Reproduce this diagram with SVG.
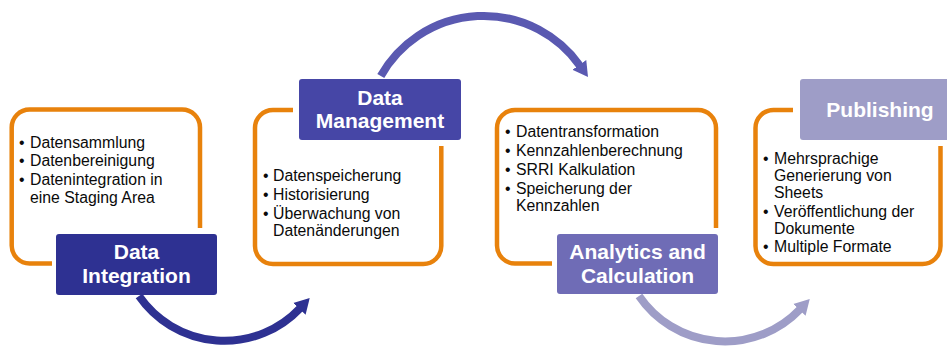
<svg xmlns="http://www.w3.org/2000/svg" width="947" height="347" viewBox="0 0 947 347">
<style>
.frame{fill:none;stroke:#E8820C;stroke-width:4.5;stroke-linecap:butt}
.hd{font-family:"Liberation Sans",Arial,sans-serif;font-weight:bold;font-size:21px;fill:#fff;text-anchor:middle}
.tx{font-family:"Liberation Sans",Arial,sans-serif;font-size:15.8px;fill:#0a0a0a}
.arr{fill:none;stroke-width:8}
</style>
<defs>
<marker id="m1" markerUnits="userSpaceOnUse" viewBox="-1 -10 16 20" markerWidth="16" markerHeight="20" refX="0" refY="0" orient="auto"><polygon points="-1,-8.5 14,0 -1,8.5" fill="#2E3192"/></marker>
<marker id="m2" markerUnits="userSpaceOnUse" viewBox="-1 -10 16 20" markerWidth="16" markerHeight="20" refX="0" refY="0" orient="auto"><polygon points="-1,-8.5 14,0 -1,8.5" fill="#5A59B1"/></marker>
<marker id="m3" markerUnits="userSpaceOnUse" viewBox="-1 -10 16 20" markerWidth="16" markerHeight="20" refX="0" refY="0" orient="auto"><polygon points="-1,-8.5 14,0 -1,8.5" fill="#9E9DC7"/></marker>
</defs>
<rect width="947" height="347" fill="#fff"/>
<g id="connectors">
<path class="arr" stroke="#2E3192" d="M139,296 A104,104 0 0 0 300.1,308.2" marker-end="url(#m1)"/>
<path class="arr" stroke="#5A59B1" d="M380.8,76 A118,118 0 0 1 579.9,65.7" marker-end="url(#m2)"/>
<path class="arr" stroke="#9E9DC7" d="M639,296 A104,104 0 0 0 800.1,309.2" marker-end="url(#m3)"/>
</g>
<g id="node-data-integration">
<path class="frame" d="M52,263.5 H29.7 A18,18 0 0 1 11.7,245.5 V127.5 A18,18 0 0 1 29.7,109.5 H182 A18,18 0 0 1 200,127.5 V228"/>
<text class="tx" x="19" y="148">•</text><text class="tx" x="30" y="148">Datensammlung</text>
<text class="tx" x="19" y="166">•</text><text class="tx" x="30" y="166">Datenbereinigung</text>
<text class="tx" x="19" y="185">•</text><text class="tx" x="30" y="185">Datenintegration in</text>
<text class="tx" x="30" y="202.5">eine Staging Area</text>
<rect x="56" y="234" width="161" height="61" rx="3" fill="#2E3192"/>
<text class="hd" x="136.5" y="259">Data</text>
<text class="hd" x="136.5" y="283">Integration</text>
</g>
<g id="node-data-management">
<path class="frame" d="M293,110 H273 A18,18 0 0 0 255,128 V246 A18,18 0 0 0 273,264 H423.3 A18,18 0 0 0 441.3,246 V146"/>
<text class="tx" x="263" y="181">•</text><text class="tx" x="273" y="181">Datenspeicherung</text>
<text class="tx" x="263" y="199.5">•</text><text class="tx" x="273" y="199.5">Historisierung</text>
<text class="tx" x="263" y="218.5">•</text><text class="tx" x="273" y="218.5">Überwachung von</text>
<text class="tx" x="273" y="236">Datenänderungen</text>
<rect x="299" y="79" width="162" height="61" rx="3" fill="#4646A6"/>
<text class="hd" x="380" y="105">Data</text>
<text class="hd" x="380" y="127.5">Management</text>
</g>
<g id="node-analytics">
<path class="frame" d="M552,263.5 H515 A18,18 0 0 1 497,245.5 V128 A18,18 0 0 1 515,110 H698 A18,18 0 0 1 716,128 V228"/>
<text class="tx" x="505" y="137">•</text><text class="tx" x="516" y="137">Datentransformation</text>
<text class="tx" x="505" y="156">•</text><text class="tx" x="516" y="156">Kennzahlenberechnung</text>
<text class="tx" x="505" y="175">•</text><text class="tx" x="516" y="175">SRRI Kalkulation</text>
<text class="tx" x="505" y="193.5">•</text><text class="tx" x="516" y="193.5">Speicherung der</text>
<text class="tx" x="516" y="211">Kennzahlen</text>
<rect x="557" y="234" width="161" height="60" rx="3" fill="#6F6CB6"/>
<text class="hd" x="637.5" y="259">Analytics and</text>
<text class="hd" x="637.5" y="283">Calculation</text>
</g>
<g id="node-publishing">
<path class="frame" d="M793,110 H773.5 A18,18 0 0 0 755.5,128 V246 A18,18 0 0 0 773.5,264 H922.5 A18,18 0 0 0 940.5,246 V146"/>
<text class="tx" x="763" y="164">•</text><text class="tx" x="774" y="164">Mehrsprachige</text>
<text class="tx" x="774" y="181">Generierung von</text>
<text class="tx" x="774" y="198">Sheets</text>
<text class="tx" x="763" y="217">•</text><text class="tx" x="774" y="217">Veröffentlichung der</text>
<text class="tx" x="774" y="234">Dokumente</text>
<text class="tx" x="763" y="252">•</text><text class="tx" x="774" y="252">Multiple Formate</text>
<rect x="800" y="79" width="160" height="61" rx="3" fill="#9E9DC7"/>
<text class="hd" x="880" y="117">Publishing</text>
</g>
</svg>
